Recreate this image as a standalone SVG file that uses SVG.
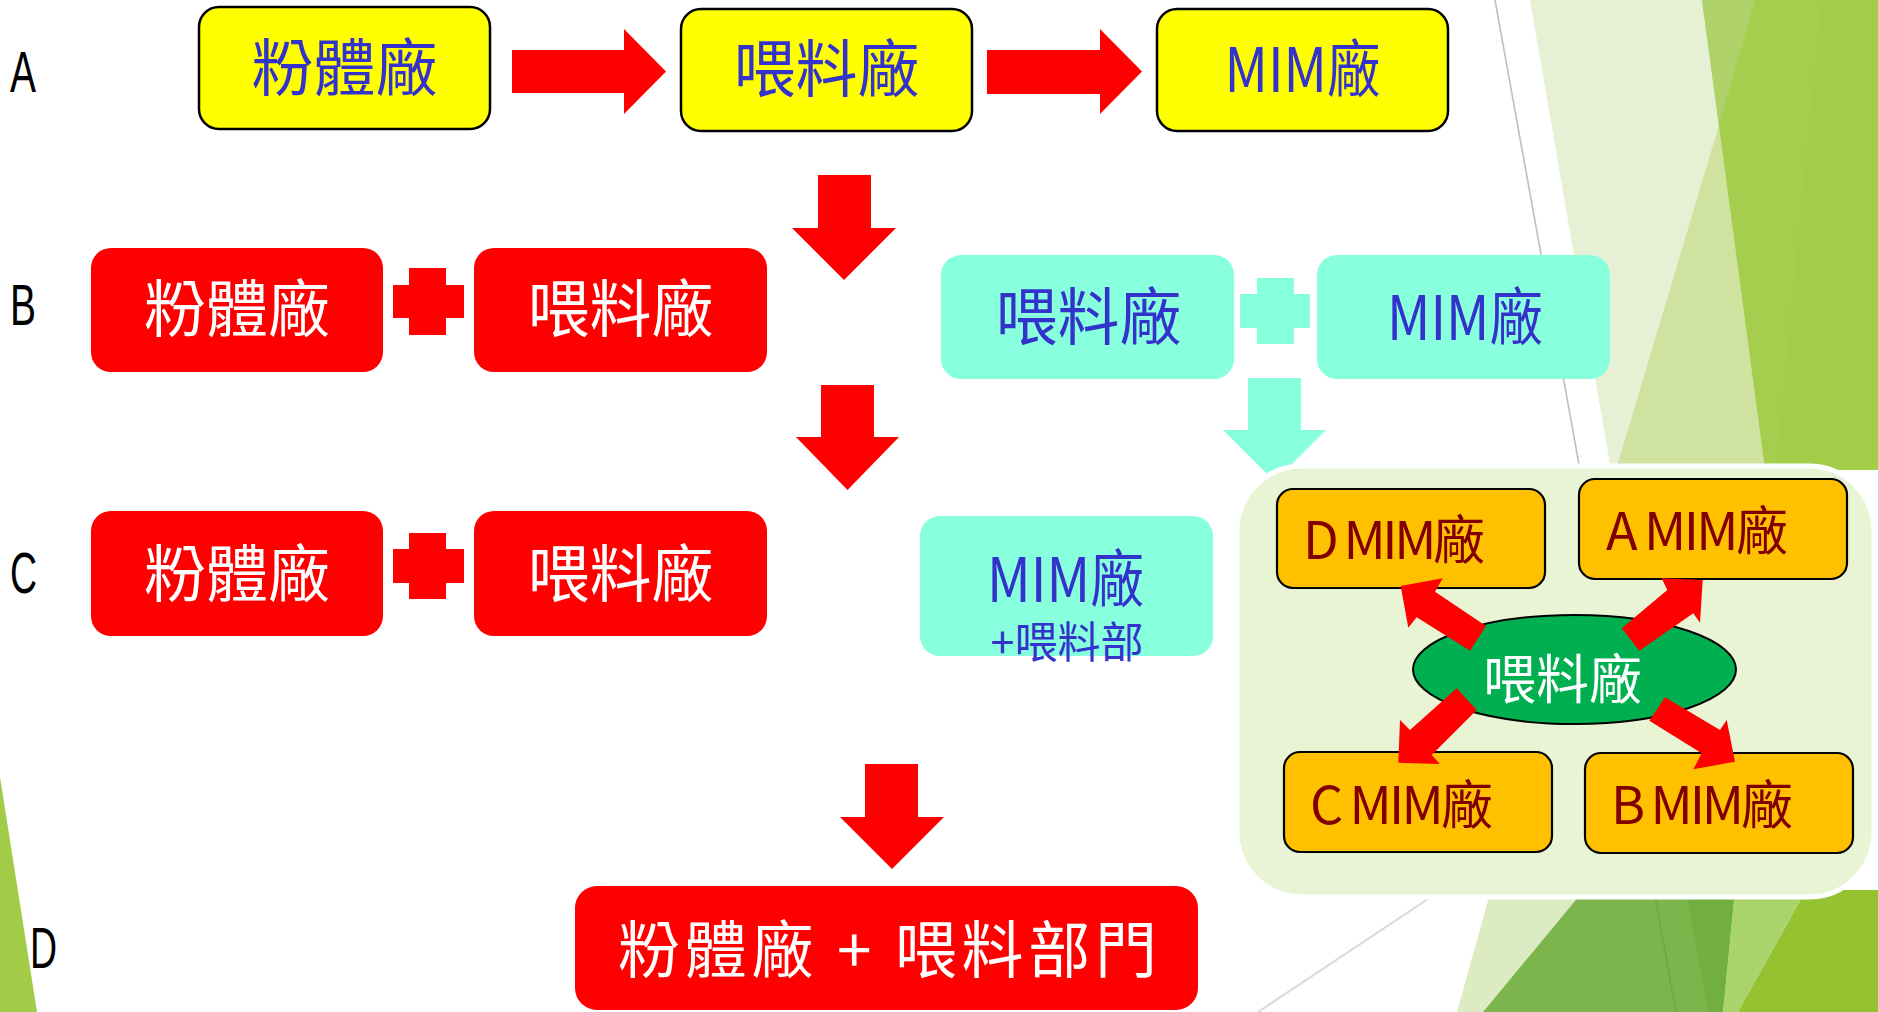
<svg xmlns="http://www.w3.org/2000/svg" width="1878" height="1012" viewBox="0 0 1878 1012">
<style>
.lbl{font-family:"Liberation Sans",Arial,sans-serif;font-size:57px;fill:#000}
.t{font-family:"Noto Sans CJK TC","Noto Sans CJK SC",sans-serif;text-anchor:middle}
.blue{fill:#3333CC}
.white{fill:#FFFFFF}
.big{font-size:62px}
.org{font-family:"Noto Sans CJK TC","Noto Sans CJK SC",sans-serif;font-size:52px;fill:#800000}
.ybox{fill:#FFFF00;stroke:#000;stroke-width:2.5}
.rbox{fill:#FF0000}
.cbox{fill:#88FFDD}
.obox{fill:#FFC000;stroke:#000;stroke-width:2.2}
.arrow{fill:#FF0000}
.carrow{fill:#88FFDD}
</style>

<!-- background -->
<g id="background">
  <rect x="0" y="0" width="1878" height="1012" fill="#FFFFFF"/>
  <polygon points="0,777 37,1012 0,1012" fill="#A2CB48"/>
  <line x1="1495" y1="0" x2="1580" y2="470" stroke="#BFBFBF" stroke-width="1.6"/>
  <polygon points="1530,0 1702,0 1765,470 1611,470" fill="#E6F0D5"/>
  <polygon points="1719,125 1765,470 1616,470" fill="#CFE2A0"/>
  <polygon points="1702,0 1878,0 1878,470 1765,470" fill="#A6CE4E"/>
  <polygon points="1702,0 1755,0 1719,125" fill="#AFD36A"/>
  <polygon points="1822,0 1878,0 1878,470 1776,470" fill="#A3CC48"/>
  <line x1="1440" y1="891" x2="1258" y2="1012" stroke="#D9D9D9" stroke-width="2"/>
  <polygon points="1491,890 1584,890 1483,1012 1457,1012" fill="#DDEBC3"/>
  <polygon points="1584,890 1735,890 1723,1012 1483,1012" fill="#7CB54C"/>
  <polygon points="1686,890 1735,890 1723,1012 1708,1012" fill="#72AF41"/>
  <line x1="1654" y1="890" x2="1676" y2="1012" stroke="#6FA840" stroke-width="1.5"/>
  <polygon points="1735,890 1806,890 1738,1012 1723,1012" fill="#A9D36B"/>
  <polygon points="1806,890 1878,890 1878,1012 1738,1012" fill="#95C230"/>
</g>

<!-- row labels -->
<g id="labels">
  <text class="lbl" x="10" y="92" textLength="26" lengthAdjust="spacingAndGlyphs">A</text>
  <text class="lbl" x="10" y="325" textLength="26" lengthAdjust="spacingAndGlyphs">B</text>
  <text class="lbl" x="10" y="593" textLength="27" lengthAdjust="spacingAndGlyphs">C</text>
  <text class="lbl" x="30" y="968" textLength="27" lengthAdjust="spacingAndGlyphs">D</text>
</g>

<!-- row A -->
<g id="a-powder">
  <rect class="ybox" x="199" y="7" width="291" height="122" rx="20"/>
  <text class="t blue big" x="344.5" y="91">粉體廠</text>
</g>
<g id="a-feed">
  <rect class="ybox" x="681" y="9" width="291" height="122" rx="20"/>
  <text class="t blue big" x="826.5" y="92">喂料廠</text>
</g>
<g id="a-mim">
  <rect class="ybox" x="1157" y="9" width="291" height="122" rx="20"/>
  <text class="t blue big" x="1302.5" y="92" textLength="156" lengthAdjust="spacingAndGlyphs">MIM廠</text>
</g>

<!-- row B -->
<g id="b-powder">
  <rect class="rbox" x="91" y="248" width="292" height="124" rx="20"/>
  <text class="t white big" x="237" y="332">粉體廠</text>
</g>
<g id="b-feed">
  <rect class="rbox" x="474" y="248" width="293" height="124" rx="20"/>
  <text class="t white big" x="620.5" y="332">喂料廠</text>
</g>
<g id="b-feed2">
  <rect class="cbox" x="941" y="255" width="293" height="124" rx="20"/>
  <text class="t blue big" x="1088.5" y="340">喂料廠</text>
</g>
<g id="b-mim">
  <rect class="cbox" x="1317" y="255" width="293" height="124" rx="20"/>
  <text class="t blue big" x="1465" y="340" textLength="156" lengthAdjust="spacingAndGlyphs">MIM廠</text>
</g>

<!-- row C -->
<g id="c-powder">
  <rect class="rbox" x="91" y="511" width="292" height="125" rx="20"/>
  <text class="t white big" x="237" y="597">粉體廠</text>
</g>
<g id="c-feed">
  <rect class="rbox" x="474" y="511" width="293" height="125" rx="20"/>
  <text class="t white big" x="620.5" y="597">喂料廠</text>
</g>
<g id="c-mim">
  <rect class="cbox" x="920" y="516" width="293" height="140" rx="20"/>
  <text class="t blue"><tspan class="big" x="1065.5" y="602" textLength="157" lengthAdjust="spacingAndGlyphs">MIM廠</tspan><tspan x="1067" y="658" font-size="43">+喂料部</tspan></text>
</g>

<!-- row D -->
<g id="d-result">
  <rect class="rbox" x="575" y="886" width="623" height="124" rx="22"/>
  <text class="t white big" x="887.5" y="973" textLength="539" lengthAdjust="spacing">粉體廠 + 喂料部門</text>
</g>

<!-- operators -->
<g id="operators">
  <path class="arrow" d="M409,268 H446 V285 H464 V318 H446 V335 H409 V318 H393 V285 H409 Z"/>
  <path class="arrow" d="M409,533 H446 V549 H464 V583 H446 V599 H409 V583 H393 V549 H409 Z"/>
  <path class="carrow" d="M1257,278 H1294 V294 H1310 V328 H1294 V344 H1257 V328 H1240 V294 H1257 Z"/>
</g>

<!-- connectors -->
<g id="connectors">
  <path class="arrow" d="M512,50 H624 V29 L666,71.5 L624,114 V93 H512 Z"/>
  <path class="arrow" d="M987,50 H1100 V29 L1142,71.5 L1100,114 V94 H987 Z"/>
  <path class="arrow" d="M818,175 H871 V228 H896 L844,280 L792,228 H818 Z"/>
  <path class="arrow" d="M821,385 H874 V437 H899 L847.5,490 L796,437 H821 Z"/>
  <path class="arrow" d="M865,764 H918 V817 H944 L892,869 L840,817 H865 Z"/>
  <path class="carrow" d="M1248,378 H1301 V430 H1326 L1274.5,481.5 L1223,430 H1248 Z"/>
</g>

<!-- hub group -->
<g id="hub-container">
  <rect x="1237" y="466" width="637" height="431" rx="65" fill="#E8F4D4" stroke="#FFFFFF" stroke-width="5"/>
</g>
<g id="mim-d">
  <rect class="obox" x="1277" y="489" width="268" height="99" rx="16"/>
  <text class="org" x="1303" y="559" textLength="182" lengthAdjust="spacing">D MIM廠</text>
</g>
<g id="mim-a">
  <rect class="obox" x="1579" y="479" width="268" height="100" rx="16"/>
  <text class="org" x="1606" y="550" textLength="182" lengthAdjust="spacing">A MIM廠</text>
</g>
<g id="mim-c">
  <rect class="obox" x="1284" y="752" width="268" height="100" rx="16"/>
  <text class="org" x="1310" y="824" textLength="183" lengthAdjust="spacing">C MIM廠</text>
</g>
<g id="mim-b">
  <rect class="obox" x="1585" y="753" width="268" height="100" rx="16"/>
  <text class="org" x="1611" y="824" textLength="182" lengthAdjust="spacing">B MIM廠</text>
</g>
<g id="hub-feed">
  <ellipse cx="1574.5" cy="669.5" rx="161.5" ry="54.5" fill="#00B050" stroke="#000" stroke-width="2"/>
  <text class="t white" x="1562.5" y="699" font-size="53">喂料廠</text>
</g>

<g id="hub-connectors">
  <polygon class="arrow" points="1400.7,586 1442.7,578.3 1435,591.7 1486,626 1470,650.7 1416.7,617.3 1408.3,627.7"/>
  <polygon class="arrow" points="1702.7,580 1700,622.7 1693.3,613.3 1639.3,650.7 1621.7,628.3 1667.3,590 1661.7,578.3"/>
  <polygon class="arrow" points="1398.3,762.7 1400,720 1410,730 1456.7,688.3 1476.7,710 1431.7,755 1440,764"/>
  <polygon class="arrow" points="1735,761.7 1726.7,720 1720,730 1665,697.3 1649.3,720.7 1701.7,753.3 1693.3,769.3"/>
</g>
</svg>
